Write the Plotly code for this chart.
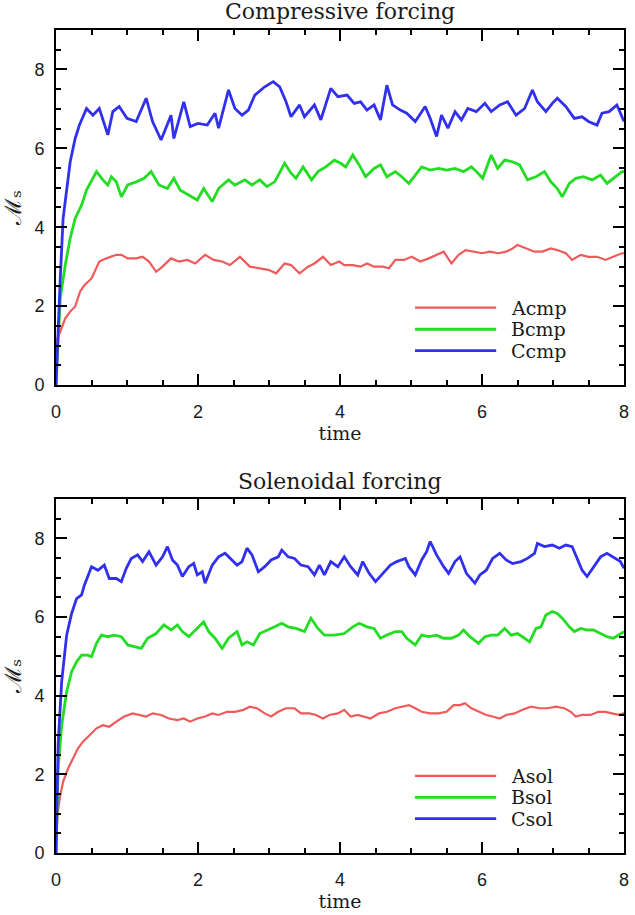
import plotly.graph_objects as go

# ---------------- data ----------------
t_acmp = [0, 0.02, 0.06, 0.13, 0.2, 0.27, 0.34, 0.4, 0.5, 0.57, 0.61, 0.71, 0.85, 0.92, 1.01, 1.13, 1.22, 1.31, 1.41, 1.5,
          1.62, 1.73, 1.85, 1.96, 2.1, 2.22, 2.34, 2.45, 2.59, 2.73, 2.87, 2.99, 3.1, 3.22, 3.31, 3.43, 3.55, 3.64, 3.76, 3.87,
          3.99, 4.06, 4.18, 4.29, 4.38, 4.48, 4.6, 4.69, 4.78, 4.9, 5.01, 5.13, 5.25, 5.36, 5.46, 5.57, 5.67, 5.77, 5.89, 6.0,
          6.11, 6.23, 6.34, 6.43, 6.5, 6.62, 6.74, 6.85, 6.97, 7.06, 7.18, 7.27, 7.39, 7.5, 7.62, 7.74, 7.85, 7.97, 8.0]
v_acmp = [0, 1.18, 1.35, 1.69, 1.86, 1.99, 2.37, 2.53, 2.7, 2.96, 3.13, 3.21, 3.3, 3.3, 3.21, 3.21, 3.25, 3.13, 2.87, 3.0,
          3.21, 3.13, 3.17, 3.08, 3.3, 3.17, 3.13, 3.04, 3.25, 3.0, 2.96, 2.92, 2.83, 3.08, 3.04, 2.83, 3.0, 3.08, 3.25, 3.04,
          3.13, 3.04, 3.04, 3.0, 3.08, 3.0, 3.0, 2.96, 3.17, 3.17, 3.25, 3.13, 3.21, 3.3, 3.38, 3.08, 3.3, 3.42, 3.38, 3.34,
          3.38, 3.34, 3.38, 3.46, 3.55, 3.46, 3.38, 3.38, 3.46, 3.42, 3.34, 3.17, 3.3, 3.25, 3.25, 3.17, 3.25, 3.34, 3.34]

t_bcmp = [0, 0.06, 0.13, 0.2, 0.27, 0.36, 0.43, 0.52, 0.57, 0.66, 0.73, 0.78, 0.85, 0.92, 1.01, 1.13, 1.24, 1.34, 1.45, 1.57,
          1.66, 1.75, 1.87, 1.99, 2.08, 2.2, 2.29, 2.43, 2.52, 2.66, 2.76, 2.87, 2.97, 3.08, 3.22, 3.31, 3.38, 3.48, 3.6, 3.69,
          3.8, 3.92, 4.01, 4.08, 4.18, 4.27, 4.36, 4.48, 4.57, 4.66, 4.78, 4.87, 4.97, 5.06, 5.15, 5.27, 5.39, 5.5, 5.62, 5.74,
          5.85, 5.92, 6.01, 6.13, 6.22, 6.32, 6.43, 6.53, 6.64, 6.76, 6.88, 6.97, 7.06, 7.13, 7.23, 7.32, 7.43, 7.55, 7.67, 7.76,
          7.88, 7.97, 8.0]
v_bcmp = [0, 2.2, 3.04, 3.72, 4.22, 4.56, 4.94, 5.24, 5.41, 5.2, 5.07, 5.28, 5.15, 4.77, 5.07, 5.15, 5.24, 5.41, 5.07, 4.98,
          5.24, 4.94, 4.82, 4.69, 4.98, 4.65, 4.98, 5.2, 5.07, 5.2, 5.07, 5.2, 5.03, 5.15, 5.62, 5.37, 5.24, 5.53, 5.2, 5.41,
          5.53, 5.7, 5.62, 5.53, 5.83, 5.58, 5.28, 5.49, 5.58, 5.28, 5.41, 5.28, 5.11, 5.32, 5.53, 5.45, 5.49, 5.45, 5.49, 5.41,
          5.53, 5.41, 5.24, 5.83, 5.49, 5.7, 5.66, 5.58, 5.2, 5.28, 5.41, 5.15, 4.98, 4.77, 5.11, 5.24, 5.28, 5.2, 5.32, 5.11,
          5.28, 5.41, 5.41]

t_ccmp = [0, 0.03, 0.06, 0.1, 0.2, 0.27, 0.33, 0.43, 0.52, 0.61, 0.73, 0.8, 0.89, 1.0, 1.13, 1.27, 1.36, 1.48, 1.62, 1.66,
          1.8, 1.89, 2.0, 2.13, 2.24, 2.29, 2.43, 2.52, 2.62, 2.71, 2.8, 2.94, 3.06, 3.15, 3.24, 3.31, 3.43, 3.5, 3.64, 3.73,
          3.87, 3.97, 4.1, 4.2, 4.29, 4.38, 4.48, 4.57, 4.66, 4.74, 4.85, 4.94, 5.06, 5.2, 5.27, 5.36, 5.43, 5.52, 5.62, 5.71,
          5.8, 5.92, 6.04, 6.13, 6.25, 6.36, 6.48, 6.6, 6.71, 6.78, 6.9, 6.99, 7.06, 7.18, 7.3, 7.41, 7.5, 7.62, 7.69, 7.79,
          7.9, 8.0]
v_ccmp = [0, 1.5, 2.7, 4.22, 5.66, 6.25, 6.59, 7.01, 6.84, 7.01, 6.34, 6.93, 7.06, 6.76, 6.68, 7.27, 6.68, 6.21, 6.84, 6.25,
          7.18, 6.55, 6.63, 6.59, 6.89, 6.51, 7.48, 7.01, 6.84, 6.97, 7.35, 7.56, 7.69, 7.56, 7.18, 6.8, 7.1, 6.8, 7.1, 6.72,
          7.52, 7.31, 7.35, 7.14, 7.18, 6.97, 7.1, 6.72, 7.6, 7.1, 6.97, 6.89, 6.68, 7.06, 6.76, 6.3, 6.84, 6.51, 6.93, 6.72,
          7.01, 6.93, 7.14, 6.93, 7.1, 7.18, 6.84, 7.01, 7.48, 7.18, 6.93, 7.14, 7.27, 7.06, 6.76, 6.8, 6.68, 6.59, 6.89, 6.93,
          7.1, 6.68]

t_asol = [0, 0.02, 0.06, 0.1, 0.17, 0.24, 0.31, 0.38, 0.47, 0.57, 0.66, 0.75, 0.85, 0.96, 1.08, 1.17, 1.27, 1.36, 1.48, 1.59,
          1.71, 1.8, 1.89, 1.99, 2.1, 2.2, 2.29, 2.41, 2.52, 2.64, 2.73, 2.83, 2.94, 3.03, 3.13, 3.24, 3.36, 3.45, 3.57, 3.66,
          3.76, 3.85, 3.97, 4.06, 4.15, 4.25, 4.34, 4.43, 4.55, 4.66, 4.78, 4.9, 4.97, 5.06, 5.15, 5.27, 5.39, 5.5, 5.6, 5.69,
          5.76, 5.85, 5.95, 6.06, 6.15, 6.25, 6.34, 6.46, 6.57, 6.69, 6.81, 6.92, 7.04, 7.16, 7.25, 7.32, 7.41, 7.53, 7.64, 7.74,
          7.83, 7.93, 8.0]
v_asol = [0, 0.97, 1.47, 1.81, 2.15, 2.41, 2.66, 2.83, 3.0, 3.17, 3.25, 3.21, 3.34, 3.47, 3.55, 3.51, 3.47, 3.55, 3.51, 3.42,
          3.38, 3.42, 3.34, 3.42, 3.47, 3.55, 3.51, 3.59, 3.59, 3.64, 3.72, 3.68, 3.55, 3.47, 3.59, 3.68, 3.68, 3.55, 3.55, 3.51,
          3.42, 3.51, 3.55, 3.64, 3.47, 3.51, 3.47, 3.42, 3.55, 3.59, 3.68, 3.72, 3.76, 3.68, 3.59, 3.55, 3.55, 3.59, 3.76, 3.76,
          3.81, 3.68, 3.59, 3.51, 3.47, 3.42, 3.51, 3.55, 3.64, 3.72, 3.68, 3.68, 3.72, 3.68, 3.59, 3.47, 3.51, 3.51, 3.59, 3.59,
          3.55, 3.51, 3.56]

t_bsol = [0, 0.03, 0.08, 0.15, 0.22, 0.29, 0.36, 0.45, 0.5, 0.57, 0.64, 0.73, 0.82, 0.92, 1.01, 1.1, 1.2, 1.29, 1.41, 1.52,
          1.62, 1.71, 1.78, 1.87, 1.99, 2.08, 2.15, 2.24, 2.34, 2.43, 2.55, 2.62, 2.69, 2.78, 2.87, 2.99, 3.08, 3.18, 3.27, 3.38,
          3.5, 3.59, 3.69, 3.78, 3.92, 4.06, 4.18, 4.27, 4.38, 4.48, 4.57, 4.66, 4.78, 4.87, 4.94, 5.06, 5.15, 5.25, 5.36, 5.46,
          5.57, 5.67, 5.74, 5.83, 5.95, 6.04, 6.13, 6.22, 6.32, 6.41, 6.5, 6.6, 6.67, 6.76, 6.83, 6.9, 6.99, 7.06, 7.13, 7.23,
          7.3, 7.39, 7.48, 7.57, 7.67, 7.76, 7.85, 7.93, 8.0]
v_bsol = [0, 2.15, 3.25, 4.1, 4.61, 4.86, 5.03, 5.03, 4.99, 5.33, 5.54, 5.5, 5.54, 5.5, 5.29, 5.25, 5.2, 5.46, 5.58, 5.8,
          5.67, 5.8, 5.63, 5.5, 5.71, 5.88, 5.63, 5.46, 5.2, 5.46, 5.63, 5.29, 5.37, 5.29, 5.58, 5.67, 5.75, 5.84, 5.75, 5.71,
          5.63, 5.97, 5.71, 5.54, 5.54, 5.58, 5.75, 5.84, 5.75, 5.71, 5.46, 5.54, 5.63, 5.63, 5.46, 5.29, 5.54, 5.5, 5.54, 5.46,
          5.46, 5.54, 5.67, 5.5, 5.33, 5.5, 5.54, 5.54, 5.71, 5.54, 5.58, 5.46, 5.37, 5.71, 5.75, 6.05, 6.14, 6.09, 5.97, 5.75,
          5.63, 5.71, 5.67, 5.67, 5.58, 5.5, 5.46, 5.54, 5.63]

t_csol = [0, 0.03, 0.08, 0.15, 0.22, 0.29, 0.36, 0.4, 0.5, 0.59, 0.68, 0.75, 0.85, 0.92, 0.99, 1.06, 1.15, 1.22, 1.31, 1.41,
          1.5, 1.57, 1.64, 1.71, 1.78, 1.87, 1.94, 1.99, 2.06, 2.1, 2.2, 2.29, 2.38, 2.48, 2.55, 2.62, 2.69, 2.76, 2.85, 2.94,
          3.03, 3.13, 3.18, 3.27, 3.36, 3.45, 3.55, 3.64, 3.71, 3.78, 3.87, 3.97, 4.06, 4.15, 4.25, 4.32, 4.41, 4.5, 4.62, 4.71,
          4.8, 4.92, 4.97, 5.06, 5.15, 5.22, 5.27, 5.36, 5.46, 5.53, 5.62, 5.69, 5.78, 5.9, 5.97, 6.06, 6.15, 6.25, 6.34, 6.43,
          6.55, 6.64, 6.74, 6.78, 6.88, 6.99, 7.09, 7.18, 7.27, 7.34, 7.41, 7.48, 7.57, 7.67, 7.76, 7.85, 7.95, 8.0]
v_csol = [0, 2.75, 4.36, 5.54, 6.09, 6.47, 6.56, 6.81, 7.28, 7.19, 7.32, 6.98, 6.98, 6.9, 7.24, 7.49, 7.58, 7.41, 7.66, 7.32,
          7.53, 7.79, 7.45, 7.32, 7.03, 7.28, 7.36, 7.07, 7.15, 6.86, 7.32, 7.53, 7.62, 7.45, 7.32, 7.41, 7.75, 7.58, 7.15, 7.28,
          7.45, 7.53, 7.7, 7.53, 7.49, 7.32, 7.28, 7.07, 7.32, 7.07, 7.41, 7.28, 7.53, 7.28, 7.07, 7.41, 7.11, 6.9, 7.15, 7.32,
          7.41, 7.49, 7.28, 7.07, 7.45, 7.66, 7.92, 7.58, 7.28, 7.11, 7.41, 7.53, 7.11, 6.86, 7.07, 7.19, 7.49, 7.62, 7.45, 7.36,
          7.41, 7.49, 7.62, 7.87, 7.79, 7.83, 7.75, 7.83, 7.79, 7.49, 7.19, 7.03, 7.28, 7.53, 7.62, 7.53, 7.41, 7.24]

names_top = ["Acmp", "Bcmp", "Ccmp"]
names_bot = ["Asol", "Bsol", "Csol"]
panel_titles = ["Compressive forcing", "Solenoidal forcing"]
x_title = "time"
y_title = "ℳₛ"
x_ticks = [0, 2, 4, 6, 8]
y_ticks = [0, 2, 4, 6, 8]

# ---------------- styling ----------------
colors = ["#F05A5A", "#22DD22", "#3030EE"]
widths = [2.2, 2.8, 2.8]
SERIF = "DejaVu Serif"
SANS = "Liberation Sans"
INK = "#1a1a1a"

fig = go.Figure()

series = [
    (t_acmp, v_acmp, names_top[0], "x", "y"),
    (t_bcmp, v_bcmp, names_top[1], "x", "y"),
    (t_ccmp, v_ccmp, names_top[2], "x", "y"),
    (t_asol, v_asol, names_bot[0], "x2", "y2"),
    (t_bsol, v_bsol, names_bot[1], "x2", "y2"),
    (t_csol, v_csol, names_bot[2], "x2", "y2"),
]
for i, (t, v, nm, xa, ya) in enumerate(series):
    fig.add_trace(go.Scatter(x=t, y=v, name=nm, mode="lines", xaxis=xa, yaxis=ya,
                             line=dict(color=colors[i % 3], width=widths[i % 3]), showlegend=False))

axis_common = dict(
    showline=True, linecolor="black", linewidth=1.6, mirror="ticks",
    ticks="inside", ticklen=11, tickwidth=1.5, tickcolor="black",
    showgrid=False, zeroline=False,
    tickfont=dict(family=SANS, size=18, color=INK),
    minor=dict(dtick=0.5, ticks="inside", ticklen=5, tickwidth=1.5, tickcolor="black", showgrid=False),
)

top_dom = [0.5687, 1.0]
bot_dom = [0.0, 0.4301]
xt = dict(text=x_title, font=dict(family=SERIF, size=19, color=INK), standoff=4)
yt = dict(text=y_title, font=dict(family=SERIF, size=23, color=INK), standoff=12)

fig.update_layout(
    width=635, height=915,
    margin=dict(l=56, r=6, t=30, b=62),
    paper_bgcolor="white", plot_bgcolor="white",
    xaxis=dict(axis_common, range=[0, 8], domain=[0, 1], anchor="y", tickvals=x_ticks,
               ticklabelstandoff=10, title=xt),
    yaxis=dict(axis_common, range=[0, 9], domain=top_dom, anchor="x", tickvals=y_ticks,
               ticklabelstandoff=6, title=yt),
    xaxis2=dict(axis_common, range=[0, 8], domain=[0, 1], anchor="y2", tickvals=x_ticks,
                ticklabelstandoff=10, title=xt),
    yaxis2=dict(axis_common, range=[0, 9], domain=bot_dom, anchor="x2", tickvals=y_ticks,
                ticklabelstandoff=6, title=yt),
    showlegend=False,
)

# panel titles
fig.add_annotation(text=panel_titles[0], xref="paper", yref="paper", x=0.5, y=1.0219,
                   xanchor="center", yanchor="middle", showarrow=False,
                   font=dict(family=SERIF, size=22, color=INK))
fig.add_annotation(text=panel_titles[1], xref="paper", yref="paper", x=0.5, y=0.452,
                   xanchor="center", yanchor="middle", showarrow=False,
                   font=dict(family=SERIF, size=22, color=INK))

# hand-drawn legends inside each panel
leg_y = [0.218, 0.157, 0.097]
for (xa, ya, names) in [("x", "y", names_top), ("x2", "y2", names_bot)]:
    for i, nm in enumerate(names):
        fig.add_shape(type="line", xref=f"{xa} domain", yref=f"{ya} domain",
                      x0=0.632, x1=0.775, y0=leg_y[i], y1=leg_y[i],
                      line=dict(color=colors[i], width=widths[i]))
        fig.add_annotation(text=nm, xref=f"{xa} domain", yref=f"{ya} domain",
                           x=0.798, y=leg_y[i], xanchor="left", yanchor="middle",
                           showarrow=False, font=dict(family=SERIF, size=19, color=INK))

fig.write_html("out.html")
